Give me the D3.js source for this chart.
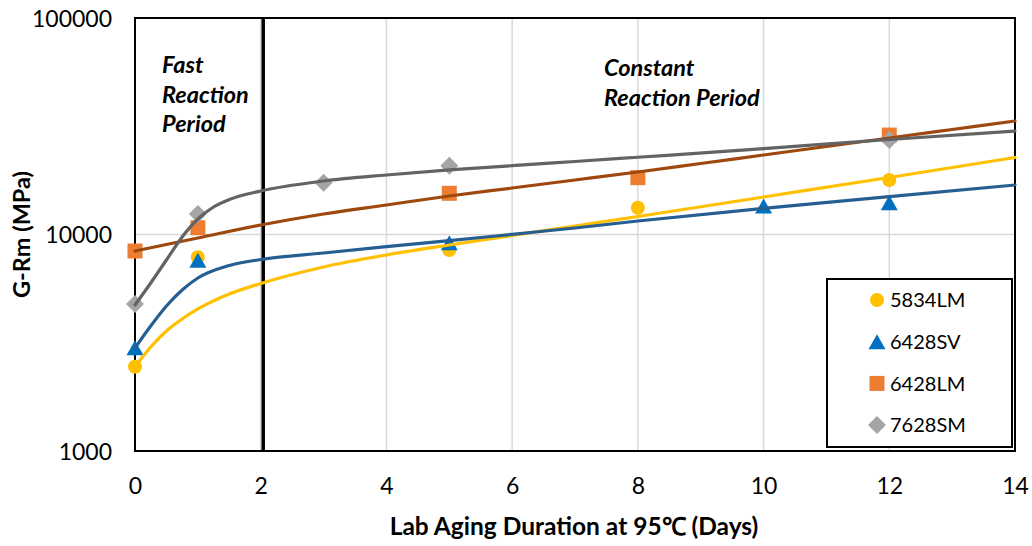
<!DOCTYPE html>
<html><head><meta charset="utf-8">
<script src="https://cdn.jsdelivr.net/npm/d3@7"></script>
<style>body{margin:0;background:#fff}svg{display:block}</style>
</head><body>
<svg id="c" width="1032" height="546"></svg>
<script>
// ---- data ----
const seriesNames = ["5834LM", "6428SV", "6428LM", "7628SM"];
const xTicks = [0, 2, 4, 6, 8, 10, 12, 14];
const yTicks = [1000, 10000, 100000];
const yTickLabels = ["1000", "10000", "100000"];
const xTitle = "Lab Aging Duration at 95\u2103 (Days)";
const yTitle = "G-Rm (MPa)";
const noteFast = ["Fast", "Reaction", "Period"];
const noteConst = ["Constant", "Reaction Period"];
const dividerDay = 2.04;

// measured points [day, G-Rm]
const pts5834LM = [[0, 2450], [1, 7850], [5, 8480], [8, 13300], [12, 17850]];
const pts6428SV = [[0, 3000], [1, 7600], [5, 9170], [10, 13540], [12, 14030]];
const pts6428LM = [[0, 8390], [1, 10750], [5, 15500], [8, 18300], [12, 28800]];
const pts7628SM = [[0, 4775], [1, 12440], [3, 17350], [5, 20780], [12, 27320]];

// trend curves [day, G-Rm]
const fit5834LM = [[0, 2452], [0.25, 3022], [0.5, 3584], [0.75, 4071], [1, 4529], [1.5, 5312], [2, 5939], [3, 7077], [4, 8043], [5, 8944], [6, 9894], [7, 10946], [8, 12110], [10, 14899], [12, 18336], [14, 22688]];
const fit6428SV = [[0, 2991], [0.25, 3780], [0.5, 4676], [0.75, 5542], [1, 6296], [1.5, 7192], [2, 7665], [3, 8214], [4, 8782], [5, 9362], [6, 10021], [7, 10715], [8, 11542], [10, 13213], [12, 14947], [14, 16929]];
const fit6428LM = [[0, 8390], [1, 9634], [2, 11065], [3, 12437], [4, 13688], [5, 15058], [6, 16398], [7, 17854], [8, 19446], [9, 21281], [10, 23292], [11, 25502], [12, 27908], [13, 30549], [14, 33434]];
const fit7628SM = [[0, 4725], [0.25, 5971], [0.5, 7625], [0.75, 9737], [1, 11793], [1.25, 13399], [1.5, 14509], [2, 15884], [3, 17663], [4, 18830], [5, 19864], [6, 20784], [7, 21735], [8, 22736], [10, 24911], [12, 27474], [14, 30070]];

const markerColors = ["#FFC000", "#0070C0", "#ED7D31", "#A5A5A5"];
const lineColors = ["#FFC000", "#255E91", "#9E480E", "#636363"];
const shapes = ["circle", "triangle", "square", "diamond"];
const points = [pts5834LM, pts6428SV, pts6428LM, pts7628SM];
const fits = [fit5834LM, fit6428SV, fit6428LM, fit7628SM];

// ---- layout ----
const L = 135, R = 1015, T = 18, B = 451;
const FONT = "Lato, 'Open Sans', sans-serif";
const svg = d3.select("#c");
const x = d3.scaleLinear().domain([0, 14]).range([L, R]);
const y = d3.scaleLog().domain([1000, 100000]).range([B, T]);

function shapePath(s) {
  if (s === "circle") return d3.symbol(d3.symbolCircle, Math.PI * 7 * 7)();
  if (s === "square") return d3.symbol(d3.symbolSquare, 15 * 15)();
  if (s === "triangle") { const w = 17, h = 15; return `M0,${-h/2}L${w/2},${h/2}L${-w/2},${h/2}Z`; }
  const d = 9; return `M0,${-d}L${d},0L0,${d}L${-d},0Z`;
}

// gridlines
const g = svg.append("g");
g.selectAll(".vg").data(xTicks.filter(t => t > 0 && t < 14)).join("line")
  .attr("x1", d => x(d)).attr("x2", d => x(d)).attr("y1", T).attr("y2", B)
  .attr("stroke", "#D9D9D9").attr("stroke-width", 1.5);
g.selectAll(".hg").data(yTicks.filter(t => t > 1000 && t < 100000)).join("line")
  .attr("x1", L).attr("x2", R).attr("y1", d => y(d)).attr("y2", d => y(d))
  .attr("stroke", "#D9D9D9").attr("stroke-width", 1.5);

// axes (labels only)
const xAxis = d3.axisBottom(x).tickValues(xTicks).tickSize(0).tickPadding(0);
const gx = svg.append("g").attr("transform", `translate(0,${B})`).call(xAxis);
gx.select(".domain").remove();
gx.selectAll("text").attr("font-family", FONT).attr("font-size", 23).attr("fill", "#000")
  .attr("dy", null).attr("y", 43);
const yAxis = d3.axisLeft(y).tickValues(yTicks).tickFormat((d, i) => yTickLabels[i]).tickSize(0).tickPadding(0);
const gy = svg.append("g").attr("transform", `translate(${112},0)`).call(yAxis);
gy.select(".domain").remove();
gy.selectAll("text").attr("font-family", FONT).attr("font-size", 23).attr("fill", "#000")
  .attr("x", 0).attr("dy", "0.35em");

// plot border
svg.append("rect").attr("x", L).attr("y", T).attr("width", R - L).attr("height", B - T)
  .attr("fill", "none").attr("stroke", "#000").attr("stroke-width", 2);

// divider
svg.append("line").attr("x1", x(dividerDay)).attr("x2", x(dividerDay)).attr("y1", T).attr("y2", B)
  .attr("stroke", "#000").attr("stroke-width", 3.5);

// markers
points.forEach((p, i) => {
  svg.append("g").selectAll("path").data(p).join("path")
    .attr("d", shapePath(shapes[i]))
    .attr("transform", d => `translate(${x(d[0])},${y(d[1])})`)
    .attr("fill", markerColors[i]);
});
// trend lines
const line = d3.line().x(d => x(d[0])).y(d => y(d[1])).curve(d3.curveMonotoneX);
fits.forEach((f, i) => {
  svg.append("path").datum(f).attr("d", line).attr("fill", "none")
    .attr("stroke", lineColors[i]).attr("stroke-width", 3.2).attr("stroke-linecap", "round");
});

// annotations
svg.append("g").selectAll("text").data(noteFast).join("text")
  .attr("x", 162).attr("y", (d, i) => 73 + i * 29.5).text(d => d)
  .attr("font-family", FONT).attr("font-size", 23.5).attr("font-weight", "bold").attr("font-style", "italic");
svg.append("g").selectAll("text").data(noteConst).join("text")
  .attr("x", 604).attr("y", (d, i) => 76 + i * 30).text(d => d)
  .attr("font-family", FONT).attr("font-size", 23.5).attr("font-weight", "bold").attr("font-style", "italic");

// axis titles
svg.append("text").attr("x", 574).attr("y", 535).attr("text-anchor", "middle")
  .attr("font-family", FONT).attr("font-size", 24.5).attr("font-weight", "bold").text(xTitle);
svg.append("text").attr("transform", `translate(30,${(T + B) / 2}) rotate(-90)`).attr("text-anchor", "middle")
  .attr("font-family", FONT).attr("font-size", 23.5).attr("font-weight", "bold").text(yTitle);

// legend
const lg = svg.append("g");
lg.append("rect").attr("x", 827).attr("y", 279).attr("width", 185).attr("height", 168)
  .attr("fill", "#fff").attr("stroke", "#000").attr("stroke-width", 2);
seriesNames.forEach((n, i) => {
  const cy = 300 + i * 41.7;
  lg.append("path").attr("d", shapePath(shapes[i])).attr("transform", `translate(877,${cy})`).attr("fill", markerColors[i]);
  lg.append("text").attr("x", 890).attr("y", cy).attr("dy", "0.36em").text(n)
    .attr("font-family", FONT).attr("font-size", 20);
});
</script>
</body></html>
